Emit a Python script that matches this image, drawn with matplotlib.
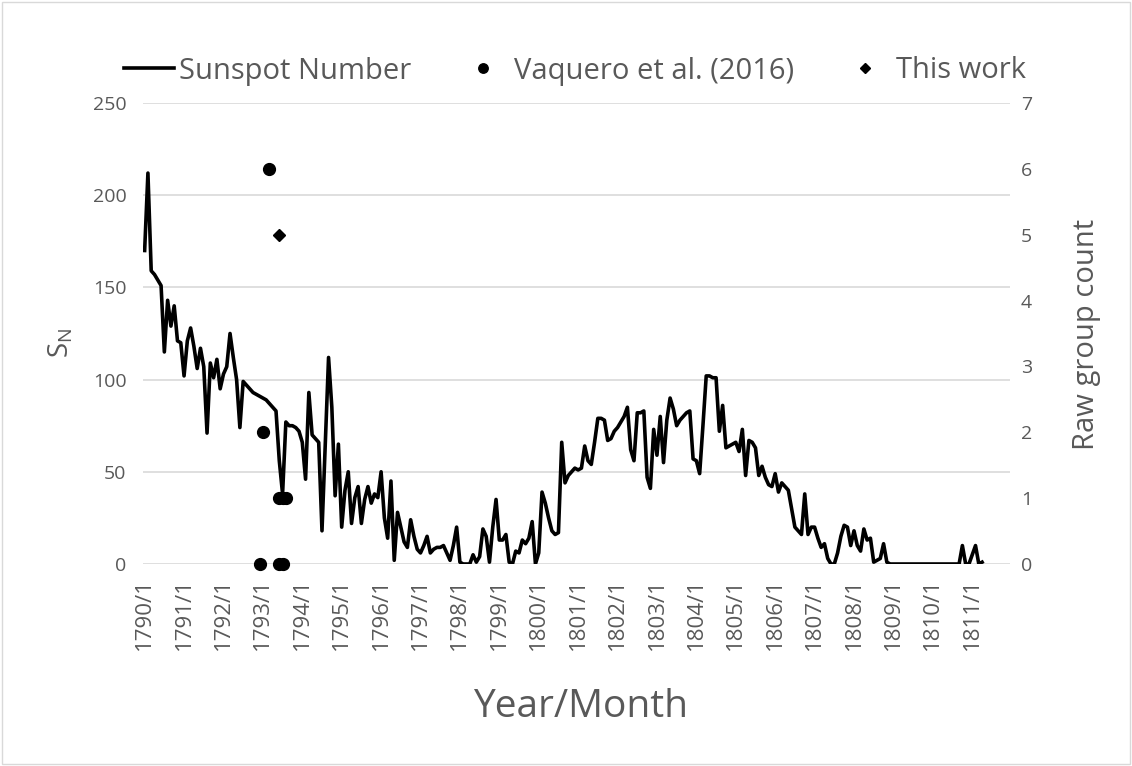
import matplotlib
matplotlib.use("Agg")
import matplotlib.pyplot as plt
from matplotlib.patches import Rectangle

plt.rcParams['font.family'] = ['Open Sans', 'DejaVu Sans']
plt.rcParams['mathtext.default'] = 'regular'

# monthly categories 1790/1 .. 1811/12
months = [f"{y}/{m}" for y in range(1790, 1812) for m in range(1, 13)]
tick_labels = months[::12]

# monthly sunspot number (1790/1 .. 1811/4)
sunspot = [
    170, 212, 159, 157, 154, 151, 115, 143, 129, 140,
    121, 120, 102, 121, 128, 118, 106, 117, 107, 71,
    109, 101, 111, 95, 103, 107, 125, 112, 100, 74,
    99, 97, 95, 93, 92, 91, 90, 89, 87, 85,
    83, 56, 38, 77, 75, 75, 74, 72, 66, 46,
    93, 70, 68, 66, 18, 65, 112, 85, 37, 65,
    20, 40, 50, 22, 36, 42, 22, 35, 42, 33,
    38, 36, 50, 25, 14, 45, 2, 28, 20, 12,
    9, 24, 15, 8, 6, 10, 15, 6, 8, 9,
    9, 10, 6, 2, 10, 20, 1, 0, 0, 0,
    5, 1, 4, 19, 15, 1, 20, 35, 13, 13,
    16, 1, 0, 7, 6, 13, 11, 14, 23, 0,
    6, 39, 33, 25, 18, 16, 17, 66, 44, 48,
    50, 52, 51, 52, 64, 56, 54, 66, 79, 79,
    78, 67, 68, 72, 74, 77, 80, 85, 62, 56,
    82, 82, 83, 47, 41, 73, 59, 80, 55, 78,
    90, 84, 75, 78, 80, 82, 83, 57, 56, 49,
    75, 102, 102, 101, 101, 72, 86, 63, 64, 65,
    66, 61, 73, 48, 67, 66, 63, 48, 53, 47,
    43, 42, 49, 39, 44, 42, 40, 30, 20, 18,
    16, 38, 16, 20, 20, 14, 9, 11, 3, 0,
    0, 6, 15, 21, 20, 10, 18, 10, 7, 19,
    13, 14, 1, 2, 3, 11, 1, 0, 0, 0,
    0, 0, 0, 0, 0, 0, 0, 0, 0, 0,
    0, 0, 0, 0, 0, 0, 0, 0, 0, 10,
    0, 0, 5, 10, 0, 1,
]

# raw group counts
vaq_months = ["1792/12", "1793/1", "1793/3", "1793/6", "1793/7", "1793/8", "1793/6", "1793/7"]
vaq_groups = [0, 2, 6, 1, 1, 1, 0, 0]
tw_months = ["1793/6"]
tw_groups = [5]

grey = '#595959'

fig = plt.figure(figsize=(11.32, 7.66), dpi=100)
ax = fig.add_axes([143/1132, 1-564/766, 867/1132, 461/766])
ax2 = ax.twinx()

x = list(range(len(sunspot)))
l1, = ax.plot(x, sunspot, color='black', lw=2.6, label='Sunspot Number')

vx = [months.index(m) for m in vaq_months]
tx = [months.index(m) for m in tw_months]
l2, = ax2.plot(vx, vaq_groups, 'o', color='black', ms=8.5, clip_on=False,
               label='Vaquero et al. (2016)')
l3, = ax2.plot(tx, tw_groups, 'D', color='black', ms=6.5, clip_on=False,
               label='This work')

ax.set_xlim(-0.5, len(months) - 0.5)
ax.set_ylim(0, 250)
ax.set_yticks(range(0, 251, 50))
ax2.set_ylim(0, 7)
ax2.set_yticks(range(0, 8))
ax.set_xticks(range(0, len(months), 12))
ax.set_xticklabels(tick_labels, rotation=90, fontsize=16, color=grey)

ax.yaxis.grid(True, color='#D9D9D9', lw=1.2)
ax.set_axisbelow(True)
for a in (ax, ax2):
    for s in a.spines.values():
        s.set_visible(False)
ax.tick_params(axis='y', length=0, labelsize=14, colors=grey, pad=12)
ax.tick_params(axis='x', length=0, pad=10)
ax2.tick_params(axis='y', length=0, labelsize=14, colors=grey, pad=8)

ax.set_ylabel('S$_{N}$', fontsize=20, color=grey)
ax.yaxis.set_label_coords(-0.078, 0.48)
ax2.set_ylabel('Raw group count', fontsize=21, color=grey)
ax2.yaxis.set_label_coords(1.072, 0.497)
ax.set_xlabel('Year/Month', fontsize=28, color=grey)
ax.xaxis.set_label_coords(0.505, -0.27)

fig.legend([l1, l2, l3], [l1.get_label(), l2.get_label(), l3.get_label()],
           loc='center', bbox_to_anchor=(575/1132, 1-71/766), ncol=3,
           frameon=False, fontsize=21, handlelength=1.7, handletextpad=0.2,
           columnspacing=1.6, labelcolor=grey, markerscale=0.8)

fig.patches.append(Rectangle((0.002, 0.002), 0.996, 0.996, transform=fig.transFigure,
                             fill=False, ec='#D9D9D9', lw=1))

fig.savefig('out.png', dpi=100)
